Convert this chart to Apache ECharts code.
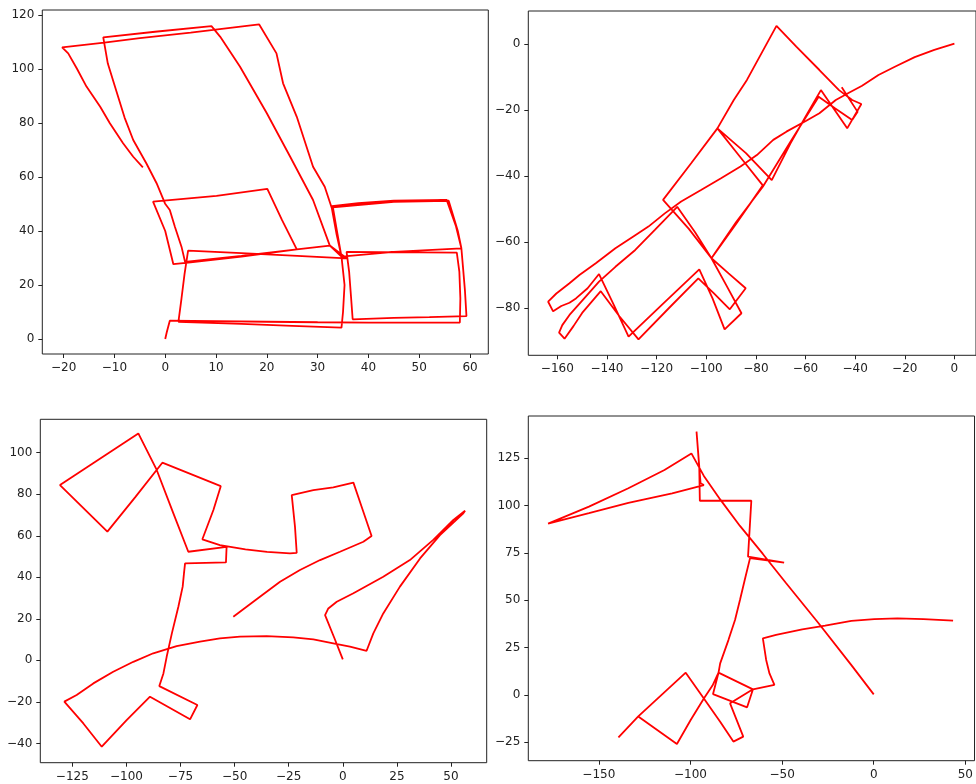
<!DOCTYPE html>
<html>
<head>
<meta charset="utf-8">
<title>Trajectories</title>
<script src="https://cdn.jsdelivr.net/npm/echarts@6/dist/echarts.min.js"></script>
<style>
  html, body { margin: 0; padding: 0; background: #fff; }
  #chart { width: 976px; height: 784px; }
</style>
</head>
<body>
<div id="chart"></div>
<script>
// Four driven trajectories, one per panel, as [x, y] points in metres.
const path1 = [
  [0,0],[0.3,2.5],[0.9,6.8],
  [10,6.6],[20,6.4],[30,6.2],[40,6.1],[50,6.1],[58,6.1],
  [58.1,15],[57.9,25],[57.4,32.0],
  [50,32.1],[42,32.2],[35.7,32.3],
  [36.2,25],[36.6,15],[36.9,7.3],
  [45,7.8],[52,8.1],[59.3,8.5],
  [59,18],[58.6,27],[58.3,33.6],
  [57.2,42],[55.4,51.5],[45,51.2],[38,50.3],[32.8,49.2],
  [33.5,42],[34.2,35],[34.7,30.5],
  [45,32.3],[58.3,33.6],
  [57.6,40],[55.8,51.2],[45,50.8],[33,48.8],
  [33.8,40],[34.7,30.5],
  [35.3,20],[35,10],[34.7,4.2],
  [25,4.9],[15,5.6],[2.6,6.4],
  [3.2,15],[3.8,24],[4.5,32.7],
  [15,31.8],[25,30.9],[35.7,29.9],
  [32.4,34.6],
  [25.9,33.2],[15,30.5],[5,28.4],[1.6,27.7],
  [0,40],[-2.4,50.9],
  [10.1,53],[20.1,55.6],
  [23,44],[25.9,33.2],
  [15,30.8],[3.9,28.6],
  [3.2,34.2],[1.9,41.6],[0.9,47.8],[-0.05,50.2],[-1.7,57.7],[-3.7,65],[-6.3,73.7],[-8,82],[-9.9,93.5],[-11.3,102],[-12.2,111.7],
  [-2,113.8],[9.1,115.9],
  [10.8,112],[14.7,100.9],[20,83.6],[24.6,67.5],[29.1,51.5],[32.4,34.6],
  [34.7,30.5],
  [33.7,39.1],[32.8,48.4],[31.4,56.4],[29.1,63.8],[25.9,82.3],[23.2,94.7],[21.9,105.8],[18.5,116.5],
  [5,113.5],[-5,111.4],[-12,109.8],[-20.3,108.0],
  [-19.1,105.8],[-17.4,100.2],[-15.5,93.5],[-12.8,86],[-10.9,79.9],[-8.3,72.5],[-6.3,67.5],[-4.4,63.6]
];

const path2 = [
  [0,0.2],[-8.1,-1.7],[-16,-3.9],[-24,-6.8],[-30.6,-9.3],[-37.2,-12.6],[-42.5,-14.7],[-47.8,-16.9],
  [-54.4,-20.9],[-59.7,-23.2],[-67.7,-26.5],[-73,-29],[-79.6,-33.6],[-86.2,-37.1],[-94.2,-40.7],
  [-102.1,-44.2],[-110.1,-47.7],[-116.7,-51.3],[-123.3,-55.3],[-128.6,-57.9],[-136.6,-61.9],
  [-144.5,-66.4],[-151.1,-70],[-155.1,-72.5],[-160.4,-75.6],[-163.7,-78.1],
  [-161.7,-81],[-158.4,-79.4],[-155.1,-78.4],[-152.5,-77.1],[-147.8,-74],[-143.2,-69.7],
  [-137.2,-79.1],[-131.3,-88.7],
  [-118,-79.1],[-102.8,-68.3],
  [-97.5,-77],[-92.6,-86.5],[-85.8,-81.6],
  [-92,-73],[-97.9,-64.9],[-104.5,-57],[-111.7,-49.3],
  [-120.7,-56.3],[-128.6,-62.4],[-136.6,-67.5],[-143.2,-72],[-149.8,-77.6],[-155.1,-82.1],[-158,-85.2],
  [-159.3,-87.5],[-157.1,-89.3],
  [-153.5,-85.5],[-150,-81.5],[-142.5,-74.9],
  [-135,-82.5],[-127.3,-89.5],
  [-115,-80],[-103.2,-71],
  [-97,-75.5],[-90.5,-80.4],[-84.1,-74],
  [-91,-69.5],[-97.9,-64.9],[-107,-56],[-117.4,-47.2],
  [-106,-36],[-95.5,-25.5],[-88.9,-16.9],[-83.6,-10.8],[-71.7,5.6],
  [-63.7,-0.7],[-54.4,-7.8],[-46.5,-13.9],[-41.2,-16.9],[-37.5,-18.1],
  [-43.2,-25.5],[-53.8,-13.9],
  [-60,-22],[-66,-30],[-73.6,-41.2],
  [-84,-33],[-95.5,-25.5],
  [-86,-34.5],[-77.2,-42.8],
  [-88,-54.5],[-97.9,-64.9],
  [-88,-54],[-77.2,-43.2],
  [-66,-29.5],[-54.7,-15.9],
  [-48,-19.5],[-41.2,-23],[-39,-20.5],[-45.4,-13]
];

const path3 = [
  [0,0.5],[-4,11],[-8.2,21.8],[-6.7,25],[-2.8,28.2],
  [4.9,32.3],[18.7,40.3],[31,48.3],[41.8,58],[51.1,67.6],[56.5,72.1],
  [55.7,70.8],[44.9,60.3],[35.7,49.1],[26.4,35.5],[18.7,22.6],[14.1,13],[11,4.6],
  [3.3,6.6],[-4.4,8.2],[-13.6,10.1],[-22.9,11.1],[-35.2,11.7],[-47.5,11.4],[-56.8,10.6],[-66,9],
  [-76.8,6.9],[-87.6,3.4],[-96.8,-0.7],[-106.1,-5.5],[-115.3,-11.1],[-123,-16.7],[-128.7,-19.9],
  [-119.9,-30.4],[-111.4,-41.6],
  [-99.9,-28.8],[-89.1,-17.5],
  [-70.6,-28.4],[-67.2,-21.5],
  [-84.8,-12.4],
  [-82.9,-6.3],[-81.4,1.7],[-79,13],[-76,25.8],[-74,35.5],[-73.4,41.9],[-72.9,46.7],
  [-54,47.2],[-53.7,54.7],[-71.4,52.3],
  [-78.3,70.8],[-86,91.7],[-94.5,109.3],
  [-130.7,84.4],
  [-108.8,62],
  [-96,78.5],[-83.4,95.2],
  [-56.4,83.9],[-59.8,72.4],[-64.9,58.3],
  [-56.8,55.5],[-45,53.5],[-35,52.2],[-24.4,51.5],[-21.3,51.8],
  [-22.1,64.4],[-23.6,79.6],
  [-13.6,82],[-4.4,83.3],[4.9,85.6],
  [8.7,74],[13.3,59.9],
  [9.5,57.1],[-1.3,52.3],[-10.5,48.3],[-19.8,43.5],[-29,37.9],[-38.3,30.6],[-50.6,21]
];

const path4 = [
  [0,0.35],[-12.2,15.8],[-30.1,37.9],[-48,59.3],[-60.5,74.5],[-73,89.3],[-83.8,103.3],[-92.7,115.7],[-99.5,127.6],
  [-114.2,118.8],[-133.9,109.2],[-155.4,99.5],[-177.7,90.5],
  [-155.4,96],[-133.9,101.5],[-110,106.5],[-92.7,110.9],
  [-94.5,111.8],[-96.7,139.1],[-95.2,120],[-94.9,102.6],
  [-66.8,102.6],[-68.6,73.1],[-48.9,69.9],[-67.5,72.3],
  [-70.4,60.7],[-73,50.2],[-75.7,39.6],[-79.3,29],[-83.8,16.7],[-84.7,11.8],
  [-65.9,3],[-69.1,-6.5],[-87.7,0.5],[-84.7,11.8],
  [-88,5],[-92.7,-1.8],[-99.9,-13.2],[-107.4,-25.9],
  [-128.5,-11.3],[-139.3,-22.4],[-128.5,-11.3],
  [-102.6,11.8],
  [-92.7,-1.8],[-83.8,-14.1],[-76.6,-24.6],[-71.2,-22],[-78.4,-4.4],
  [-65.9,3],[-54.2,5.3],
  [-56.9,11.4],[-58.7,18.5],[-60.5,29.9],
  [-53.3,31.7],[-39,34.7],[-26.5,36.6],[-12.2,39.1],[0.3,40.1],[12.9,40.5],[27.2,40.1],[43.3,39.3]
];

// Tick values for each panel.
const ticks1x = [-20,-10,0,10,20,30,40,50,60];
const ticks1y = [0,20,40,60,80,100,120];
const ticks2x = [-160,-140,-120,-100,-80,-60,-40,-20,0];
const ticks2y = [-80,-60,-40,-20,0];
const ticks3x = [-125,-100,-75,-50,-25,0,25,50];
const ticks3y = [-40,-20,0,20,40,60,80,100];
const ticks4x = [-150,-100,-50,0,50];
const ticks4y = [-25,0,25,50,75,100,125];

// Visible data window of each panel.
const ranges = [
  { x: [-24.2, 63.6], y: [-5.55, 121.85] },
  { x: [-171.7, 8.7], y: [-94.35, 10.1] },
  { x: [-139.8, 66.5], y: [-49.3, 116.1] },
  { x: [-188.5, 55.0], y: [-34.7, 147.35] }
];

const grids = [
  { left: 42.3, top: 10, width: 446, height: 344 },
  { left: 528.3, top: 11, width: 454, height: 344.3 },
  { left: 40.3, top: 419.3, width: 446.4, height: 343.4 },
  { left: 528.3, top: 416, width: 453.4, height: 344.7 }
];

const paths = [path1, path2, path3, path4];
const xTicks = [ticks1x, ticks2x, ticks3x, ticks4x];
const yTicks = [ticks1y, ticks2y, ticks3y, ticks4y];

const FONT = 'DejaVu Sans';
const fmt = v => String(v).replace('-', '\u2212');

function axis(kind, i) {
  const t = kind === 'x' ? xTicks[i] : yTicks[i];
  const r = ranges[i][kind];
  return {
    type: 'value',
    gridIndex: i,
    min: r[0],
    max: r[1],
    position: kind === 'x' ? 'bottom' : 'left',
    axisLine: { show: false, onZero: false },
    axisTick: { show: true, inside: false, length: 4, customValues: t,
                lineStyle: { color: '#222', width: 1 } },
    axisLabel: { show: true, customValues: t, margin: 8, formatter: fmt,
                 color: '#222', fontFamily: FONT, fontSize: 12 },
    splitLine: { show: false }
  };
}

const option = {
  animation: false,
  backgroundColor: '#ffffff',
  grid: grids.map(g => Object.assign({ show: true, borderColor: '#222', borderWidth: 1,
                                        backgroundColor: 'transparent' }, g)),
  xAxis: [0, 1, 2, 3].map(i => axis('x', i)),
  yAxis: [0, 1, 2, 3].map(i => axis('y', i)),
  series: paths.map((p, i) => ({
    type: 'line',
    xAxisIndex: i,
    yAxisIndex: i,
    data: p,
    showSymbol: false,
    symbol: 'none',
    clip: true,
    lineStyle: { color: '#ff0000', width: 1.8 }
  }))
};

const chart = echarts.init(document.getElementById('chart'), null, { renderer: 'canvas' });
chart.setOption(option);
</script>
</body>
</html>
